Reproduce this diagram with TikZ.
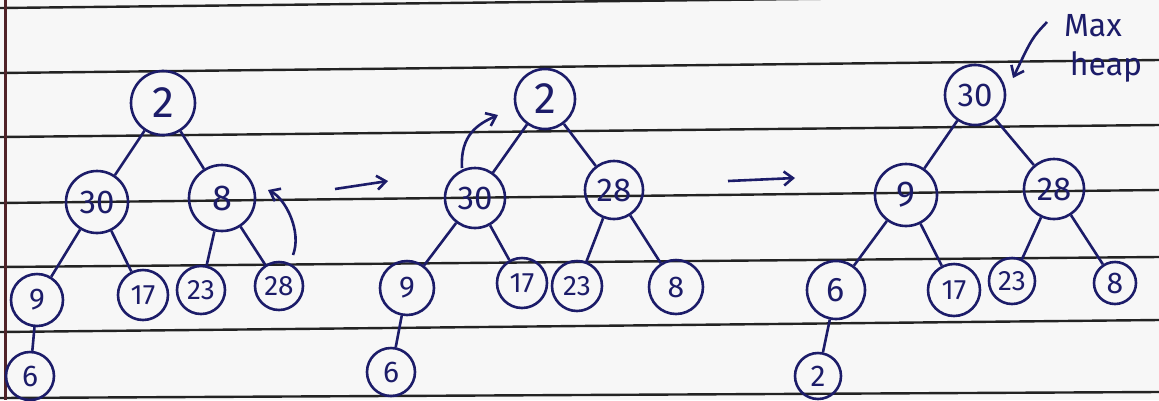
\documentclass[tikz,border=0pt]{standalone}
\usepackage{fontspec}
\setmainfont{Fira Sans}
\usetikzlibrary{arrows.meta}
\definecolor{ink}{RGB}{28,28,105}
\definecolor{rulec}{RGB}{35,35,35}
\definecolor{paper}{RGB}{247,247,247}
\definecolor{margin}{RGB}{80,35,40}
\begin{document}
\begin{tikzpicture}[x=1pt,y=-1pt,
  hn/.style={circle,draw=ink,line width=2.6pt,inner sep=0pt,text=ink},
  big/.style={hn,font=\fontsize{44}{44}\selectfont},
  mid/.style={hn,font=\fontsize{33}{33}\selectfont},
  leaf/.style={hn,font=\fontsize{30}{30}\selectfont},
  small/.style={hn,font=\fontsize{28}{28}\selectfont},
  link/.style={draw=ink,line width=2.6pt},
  arr/.style={draw=ink,line width=2.6pt,-{Straight Barb[length=9pt,width=14pt]}},
  rulel/.style={draw=rulec,line width=2.4pt},
  note/.style={text=ink,font=\fontsize{32}{32}\selectfont,inner sep=0pt}]
\useasboundingbox (0,0) rectangle (1159,400);
\fill[paper] (0,0) rectangle (1159,400);
\begin{scope}
\clip (0,0) rectangle (1159,400);
\draw[rulel] (0,8) -- (1159,-5);
\draw[rulel] (0,73) -- (1159,60);
\draw[rulel] (0,137) -- (1159,125);
\draw[rulel] (0,203) -- (1159,190);
\draw[rulel] (0,267) -- (1159,257);
\draw[rulel] (0,332) -- (1159,320);
\draw[rulel] (0,398) -- (1159,392);
\draw[draw=margin,line width=3pt] (5,0) -- (5,400);
\end{scope}

% tree 1
\node[big,minimum size=64pt] (a2) at (163,103) {2};
\node[mid,minimum size=62pt] (a30) at (97,202) {30};
\node[big,minimum size=66pt,font=\fontsize{36}{36}\selectfont] (a8) at (222,198) {8};
\node[leaf,minimum size=52pt] (a9) at (37,300) {9};
\node[small,minimum size=50pt] (a17) at (143,295) {17};
\node[small,minimum size=48pt] (a23) at (201,290) {23};
\node[small,minimum size=48pt] (a28) at (279,286) {28};
\node[leaf,minimum size=48pt] (a6) at (30,376) {6};
\path[link] (a2) -- (a30);
\path[link] (a2) -- (a8);
\path[link] (a30) -- (a9);
\path[link] (a30) -- (a17);
\path[link] (a8) -- (a23);
\path[link] (a8) -- (a28);
\path[link] (a9) -- (a6);
\coordinate (s1) at (293,255);
\coordinate (t1) at (268,190);
\draw[arr] (s1) .. controls (302,232) and (286,199) .. (t1);

\coordinate (p1) at (335,189);
\coordinate (q1) at (388,181);
\draw[arr] (p1) -- (q1);

% tree 2
\node[big,minimum size=60pt] (b2) at (545,99) {2};
\node[mid,minimum size=60pt] (b30) at (475,198) {30};
\node[mid,minimum size=58pt] (b28) at (614,190) {28};
\node[leaf,minimum size=54pt] (b9) at (407,288) {9};
\node[small,minimum size=50pt] (b17) at (522,283) {17};
\node[small,minimum size=50pt] (b23) at (577,286) {23};
\node[leaf,minimum size=54pt] (b8) at (676,287) {8};
\node[leaf,minimum size=48pt] (b6) at (391,372) {6};
\path[link] (b2) -- (b30);
\path[link] (b2) -- (b28);
\path[link] (b30) -- (b9);
\path[link] (b30) -- (b17);
\path[link] (b28) -- (b23);
\path[link] (b28) -- (b8);
\path[link] (b9) -- (b6);
\coordinate (s2) at (462,168);
\coordinate (t2) at (498,115);
\draw[arr] (s2) .. controls (460,135) and (478,124) .. (t2);

\coordinate (p2) at (728,181);
\coordinate (q2) at (795,178);
\draw[arr] (p2) -- (q2);

% tree 3
\node[mid,minimum size=60pt] (c30) at (975,95) {30};
\node[big,minimum size=62pt,font=\fontsize{36}{36}\selectfont] (c9) at (906,195) {9};
\node[mid,minimum size=60pt] (c28) at (1054,189) {28};
\node[big,minimum size=58pt,font=\fontsize{34}{34}\selectfont] (c6) at (836,290) {6};
\node[small,minimum size=52pt] (c17) at (954,290) {17};
\node[small,minimum size=46pt] (c23) at (1012,281) {23};
\node[leaf,minimum size=42pt] (c8) at (1115,283) {8};
\node[leaf,minimum size=46pt] (c2) at (818,376) {2};
\path[link] (c30) -- (c9);
\path[link] (c30) -- (c28);
\path[link] (c9) -- (c6);
\path[link] (c9) -- (c17);
\path[link] (c28) -- (c23);
\path[link] (c28) -- (c8);
\path[link] (c6) -- (c2);

\node[note] (mx) at (1093,26) {Max};
\node[note] (hp) at (1106,67) {heap};
\coordinate (m1) at (1047,22);
\coordinate (m2) at (1013,78);
\draw[arr] (m1) .. controls (1032,38) .. (m2);
\end{tikzpicture}
\end{document}
